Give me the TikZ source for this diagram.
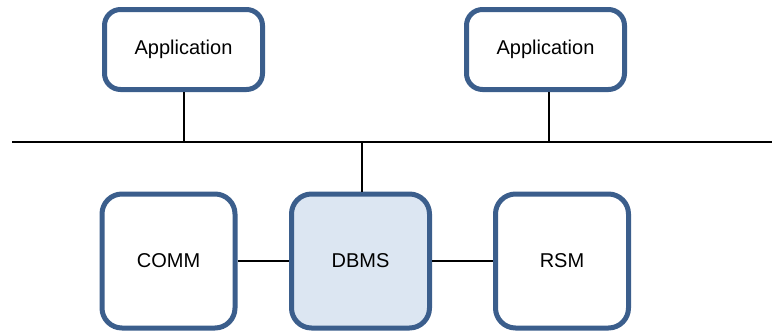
\documentclass[tikz,border=0pt]{standalone}
\usepackage{fontspec}
\setmainfont{Liberation Sans}
\usetikzlibrary{positioning}
\definecolor{boxedge}{RGB}{59,94,140}
\definecolor{boxfill}{RGB}{220,230,242}

\begin{document}
\begin{tikzpicture}[x=1pt,y=1pt]
	\tikzstyle{every node}+=[font=\fontsize{20}{23}\selectfont]
	\tikzstyle{app}=[draw=boxedge, line width=5pt, rounded corners=16pt, fill=white, minimum width=158pt, minimum height=80pt, inner sep=0pt]
	\tikzstyle{module}=[draw=boxedge, line width=5pt, rounded corners=20pt, fill=white, minimum width=133pt, minimum height=134pt, inner sep=0pt]
	\tikzstyle{wire}=[black, line width=2pt]
	\useasboundingbox (0,0) rectangle (772,-330);
	\node [app] (appL) at (183.5,-49.5) {Application};
	\node [app] (appR) at (545.5,-49.5) {Application};
	\coordinate (busL) at (12,-141.5);
	\coordinate (busR) at (772,-141.5);
	\node [module] (comm) at (168.5,-261) {COMM};
	\node [module, fill=boxfill, minimum width=138pt] (dbms) at (360.5,-261) {DBMS};
	\node [module] (rsm) at (562,-261) {RSM};
	\draw [wire] (busL) -- (busR);
	\draw [wire] (appL.south) -- (appL.south |- busL);
	\draw [wire] ([xshift=3pt]appR.south) -- ([xshift=3pt]appR.south |- busL);
	\draw [wire] ([xshift=1.5pt]dbms.north) -- ([xshift=1.5pt]dbms.north |- busL);
	\draw [wire] (comm) -- (dbms);
	\draw [wire] (dbms) -- (rsm);
\end{tikzpicture}
\end{document}
